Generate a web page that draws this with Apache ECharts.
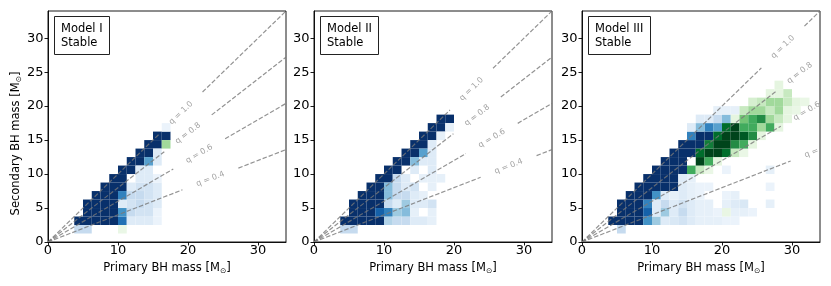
<!DOCTYPE html>
<html>
<head>
<meta charset="utf-8">
<script src="https://cdn.jsdelivr.net/npm/echarts@6/dist/echarts.min.js"></script>
<style>
html,body{margin:0;padding:0;background:#fff;}
#chart{width:831px;height:286px;}
</style>
</head>
<body>
<div id="chart"></div>
<script>
// ---------------- data ----------------
const BIN = 1.25;              // histogram bin width (M_sun)
const AX_MAX = 34;
const xTicks = [0, 10, 20, 30];
const yTicks = [0, 5, 10, 15, 20, 25, 30];
const panelTitles = ['Model I\nStable', 'Model II\nStable', 'Model III\nStable'];
const qValues = [1.0, 0.8, 0.6, 0.4];
const qLabels = ['q = 1.0', 'q = 0.8', 'q = 0.6', 'q = 0.4'];
// primary mass at which each q label sits, per panel
const qLabelX1 = [19.0, 20.0, 21.6, 23.2];
const qLabelX2 = [22.5, 23.3, 25.4, 27.8];
const qLabelX3 = [28.7, 31.1, 32.1, 33.8];

// cells: [primary bin index, secondary bin index, colour level 0-8]
const model1Blue = [
  [3,2,8],
  [4,2,8],[4,3,8],[4,4,8],
  [5,2,8],[5,3,8],[5,4,8],[5,5,8],
  [6,2,8],[6,3,8],[6,4,8],[6,5,8],[6,6,8],
  [7,2,8],[7,3,8],[7,4,8],[7,5,8],[7,6,8],[7,7,8],
  [8,6,8],[8,7,8],[8,8,8],
  [9,8,8],[9,9,8],
  [10,9,8],[10,10,8],
  [11,10,8],[11,11,8],
  [12,11,8],[12,12,8],
  [13,12,8],
  [3,1,2],[4,1,2],
  [8,2,6],[8,3,5],[8,4,1],[8,5,5.5],
  [9,2,1],[9,3,2],[9,4,1.5],[9,5,2],[9,6,1],
  [10,2,1],[10,3,1.5],[10,4,2],[10,5,2],[10,6,1.5],[10,7,1],[10,8,1],
  [11,2,1],[11,3,1.5],[11,4,1.5],[11,5,1.5],[11,6,1.5],[11,7,1],[11,8,1],[11,9,4.5],
  [12,2,0.5],[12,3,0.5],[12,4,1],[12,5,1],[12,6,1],[12,7,0.5],[12,9,1],[12,10,1],
  [13,13,0.5]
];
const model1Green = [[13,11,3],[8,1,0.7]];

const model2Blue = [
  [3,2,8],
  [4,2,8],[4,3,8],[4,4,8],
  [5,2,8],[5,3,8],[5,4,8],[5,5,8],
  [6,2,8],[6,3,8],[6,4,8],[6,5,8],[6,6,8],
  [7,2,8],[7,3,6.5],[7,4,8],[7,5,8],[7,6,8],[7,7,8],
  [8,7,8],[8,8,8],
  [9,8,8],[9,9,8],
  [10,9,8],[10,10,8],
  [11,10,8],[11,11,8],
  [12,11,8],[12,12,8],
  [13,12,8],[13,13,8],
  [14,13,8],[14,14,8],
  [15,14,8],
  [3,1,2],[4,1,2],
  [8,2,2.5],[8,3,5.5],[8,4,2],[8,5,3.5],[8,6,3.5],
  [9,2,2],[9,3,3],[9,4,1],[9,5,2],[9,6,2],[9,7,2],
  [10,2,2],[10,3,3.5],[10,4,3],[10,5,2],[10,6,1],[10,7,1],
  [11,2,1],[11,3,0.7],[11,4,1],[11,5,1],[11,6,1.5],[11,8,1],[11,9,3.5],
  [12,2,1],[12,4,1],[12,5,0.7],[12,7,0.7],[12,9,1],[12,10,4.5],
  [13,2,0.7],[13,3,0.7],[13,4,1.5],[13,6,0.7],[13,7,0.7],[13,8,1],[13,9,1],[13,10,1],[13,11,1],
  [14,7,0.7],[14,12,0.7],[15,13,0.7]
];
const model2Green = [];

const model3Blue = [
  [3,2,8],
  [4,2,8],[4,3,8],[4,4,8],
  [5,2,8],[5,3,8],[5,4,8],[5,5,8],
  [6,2,8],[6,3,8],[6,4,8],[6,5,8],[6,6,8],
  [7,2,5],[7,3,6.5],[7,4,5.5],[7,5,8],[7,6,8],[7,7,8],
  [8,5,5],[8,6,8],[8,7,8],[8,8,8],
  [9,6,8],[9,7,8],[9,8,8],[9,9,8],
  [10,6,8],[10,7,8],[10,8,8],[10,9,8],[10,10,8],
  [11,8,8],[11,9,8],[11,10,8],[11,11,8],
  [12,10,8],[12,11,8],[12,12,5.5],
  [13,11,8],[13,12,8],
  [14,12,8],[14,13,5.5],
  [12,13,1],[13,13,3.5],[15,13,4.5],
  [13,14,1],[14,14,1],[15,14,2],[16,14,3.5],
  [15,15,0.7],[16,15,0.7],[17,15,0.7],
  [4,1,2],
  [8,2,3],[9,2,1],[10,2,1.2],[11,2,1.5],[12,2,1],[13,2,0.7],[14,2,0.7],[15,2,0.7],[16,2,0.5],[17,2,0.5],
  [8,3,1],[9,3,3],[10,3,1],[11,3,2],[12,3,1],[13,3,0.7],[14,3,0.7],[15,3,0.5],[17,3,0.7],[18,3,0.7],[19,3,0.5],
  [8,4,1],[9,4,2],[10,4,1],[11,4,1.5],[12,4,1],[13,4,0.7],[14,4,0.7],[16,4,0.7],[17,4,1],[18,4,1.2],[21,4,0.7],
  [9,5,1],[10,5,0.7],[11,5,1],[12,5,0.7],[13,5,0.5],[16,5,0.5],[17,5,0.7],
  [11,6,1],[12,6,0.7],[13,6,0.5],[14,6,0.5],[21,6,0.5],
  [11,7,1],[12,7,0.7],
  [16,8,0.5],[21,8,0.7]
];
const model3Green = [
  [16,3,0.8],
  [12,8,5],[13,8,2],[14,8,0.7],
  [13,9,8],[14,9,5],[15,9,1],
  [13,10,7],[14,10,8],[15,10,8],[16,10,7],[17,10,2],[18,10,0.7],
  [14,11,6.5],[15,11,8],[16,11,8],[17,11,6],[18,11,5],[19,11,1],
  [15,12,7],[16,12,8],[17,12,8],[18,12,7.5],[19,12,6],[20,12,1],
  [16,13,7],[17,13,8],[18,13,5],[19,13,5],[20,13,3],[21,13,5],[22,13,1],
  [17,14,1],[18,14,4],[19,14,5],[20,14,6],[21,14,3],[22,14,2],[23,14,1],
  [18,15,2],[19,15,3],[20,15,3],[21,15,2],[22,15,3],[23,15,1],[24,15,0.7],
  [19,16,1.5],[20,16,2],[21,16,3],[22,16,3],[23,16,2],[24,16,1],[25,16,0.7],
  [21,17,1],[22,17,1],[23,17,2],
  [22,18,1]
];

// ---------------- styling ----------------
const FONT = 'DejaVu Sans';
const BLUES = ['#f7fbff','#deebf7','#c6dbef','#9ecae1','#6baed6','#4292c6','#2171b5','#08519c','#08306b'];
const GREENS = ['#f7fcf5','#e5f5e0','#c7e9c0','#a1d99b','#74c476','#41ab5d','#238b45','#006d2c','#00441b'];
const GRID_LEFT = [48, 314, 582];
const GRID_TOP = 11, GRID_W = 238, GRID_H = 231;
const LABEL_GAP = 30;
const TICK_FONT = 13, NAME_FONT = 11.5;

const panels = [
  {blue: model1Blue, green: model1Green, lx: qLabelX1, title: panelTitles[0]},
  {blue: model2Blue, green: model2Green, lx: qLabelX2, title: panelTitles[1]},
  {blue: model3Blue, green: model3Green, lx: qLabelX3, title: panelTitles[2]}
];

function renderCell(params, api) {
  const i = api.value(0), j = api.value(1);
  const a = api.coord([i * BIN, j * BIN]);
  const b = api.coord([(i + 1) * BIN, (j + 1) * BIN]);
  return {
    type: 'rect',
    shape: {x: a[0], y: b[1], width: b[0] - a[0], height: a[1] - b[1]},
    style: {fill: api.visual('color')}
  };
}

function renderQ(params, api) {
  const q = api.value(0), xc = api.value(1);
  const p0 = api.coord([0, 0]);
  const p1 = api.coord([AX_MAX, AX_MAX * q]);
  const pc = api.coord([xc, xc * q]);
  const dx = p1[0] - p0[0], dy = p1[1] - p0[1];
  const len = Math.hypot(dx, dy);
  const ux = dx / len, uy = dy / len;
  const tc = Math.hypot(pc[0] - p0[0], pc[1] - p0[1]);
  const ls = {stroke: 'rgba(120,120,120,0.8)', lineWidth: 1.2, lineDash: [4.5, 2]};
  const children = [{
    type: 'line',
    shape: {x1: p0[0], y1: p0[1], x2: pc[0] - ux * LABEL_GAP, y2: pc[1] - uy * LABEL_GAP},
    style: ls
  }];
  if (tc + LABEL_GAP < len) {
    children.push({
      type: 'line',
      shape: {x1: pc[0] + ux * LABEL_GAP, y1: pc[1] + uy * LABEL_GAP, x2: p1[0], y2: p1[1]},
      style: ls
    });
  }
  children.push({
    type: 'text',
    x: pc[0], y: pc[1],
    rotation: Math.atan2(-dy, dx),
    style: {
      text: qLabels[params.dataIndex], x: 0, y: 0,
      align: 'center', verticalAlign: 'middle',
      fill: '#a3a3a3', fontSize: 8, fontFamily: FONT
    }
  });
  return {type: 'group', children: children};
}

const grid = [], xAxis = [], yAxis = [], series = [], title = [];
const axisLineStyle = {color: '#000', width: 0.9};
const subRich = {sub: {fontSize: 7.5, fontFamily: FONT, color: '#000', verticalAlign: 'bottom', padding: [5, 0, 0, 0]}};
panels.forEach((p, k) => {
  grid.push({left: GRID_LEFT[k], top: GRID_TOP, width: GRID_W, height: GRID_H,
    show: true, borderColor: '#000', borderWidth: 0.9, backgroundColor: '#fff'});
  xAxis.push({
    gridIndex: k, type: 'value', min: 0, max: AX_MAX,
    name: 'Primary BH mass [M{sub|⊙}]', nameLocation: 'middle', nameGap: 17,
    nameTextStyle: {fontSize: NAME_FONT, color: '#000', fontFamily: FONT, rich: subRich},
    axisLine: {show: true, onZero: false, lineStyle: axisLineStyle},
    axisTick: {show: true, length: 3.5, lineStyle: axisLineStyle, customValues: xTicks},
    axisLabel: {fontSize: TICK_FONT, color: '#000', fontFamily: FONT, margin: 2.5, customValues: xTicks},
    splitLine: {show: false}
  });
  const ya = {
    gridIndex: k, type: 'value', min: 0, max: AX_MAX,
    axisLine: {show: true, onZero: false, lineStyle: axisLineStyle},
    axisTick: {show: true, length: 3.5, lineStyle: axisLineStyle, customValues: yTicks},
    axisLabel: {fontSize: TICK_FONT, color: '#000', fontFamily: FONT, margin: 4.5, customValues: yTicks},
    splitLine: {show: false}
  };
  if (k === 0) {
    ya.name = 'Secondary BH mass [M{sub|⊙}]';
    ya.nameLocation = 'middle';
    ya.nameGap = 25;
    ya.nameTextStyle = {fontSize: NAME_FONT, color: '#000', fontFamily: FONT, padding: [0, 34, 0, 0], rich: subRich};
  }
  yAxis.push(ya);
  series.push({type: 'custom', xAxisIndex: k, yAxisIndex: k, clip: true,
    renderItem: renderCell, data: p.blue, encode: {x: 0, y: 1}, silent: true, z: 2});
  series.push({type: 'custom', xAxisIndex: k, yAxisIndex: k, clip: true,
    renderItem: renderCell, data: p.green, encode: {x: 0, y: 1}, silent: true, z: 3});
  series.push({type: 'custom', xAxisIndex: k, yAxisIndex: k, clip: true,
    renderItem: renderQ, data: qValues.map((q, n) => [q, p.lx[n]]), silent: true, z: 4});
  title.push({
    text: p.title, left: GRID_LEFT[k] + 6, top: 16,
    padding: [6, 7, 5, 7], borderColor: '#222', borderWidth: 1, backgroundColor: '#fff',
    textStyle: {fontSize: NAME_FONT, lineHeight: 14, fontWeight: 'normal', color: '#000', fontFamily: FONT}
  });
});

const chart = echarts.init(document.getElementById('chart'), null, {renderer: 'canvas'});
chart.setOption({
  animation: false,
  backgroundColor: '#fff',
  title: title,
  grid: grid,
  xAxis: xAxis,
  yAxis: yAxis,
  visualMap: [
    {type: 'continuous', show: false, dimension: 2, min: 0, max: 8,
      seriesIndex: [0, 3, 6], inRange: {color: BLUES}},
    {type: 'continuous', show: false, dimension: 2, min: 0, max: 8,
      seriesIndex: [1, 4, 7], inRange: {color: GREENS}}
  ],
  series: series
});
</script>
</body>
</html>
